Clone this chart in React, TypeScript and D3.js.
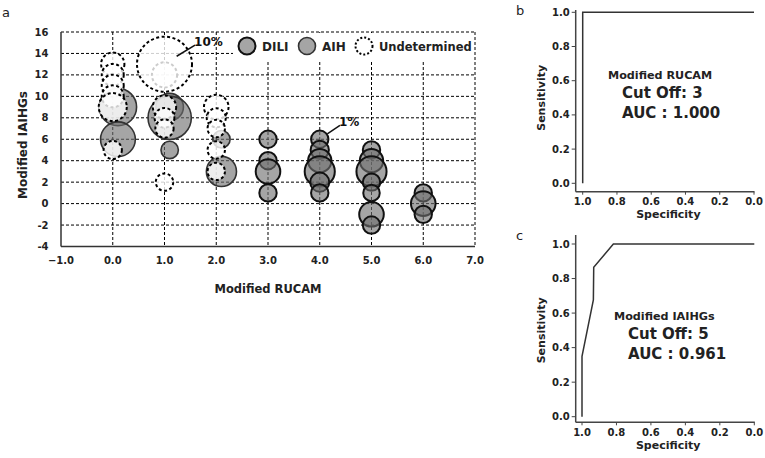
import React from "react";
import * as d3 from "d3";

// ---- data ----
const xTicks = [-1, 0, 1, 2, 3, 4, 5, 6, 7];
const yTicks = [-4, -2, 0, 2, 4, 6, 8, 10, 12, 14, 16];
const xGrid = [0, 1, 2, 3, 4, 5, 6, 7];
const yGrid = [-2, 0, 2, 4, 6, 8, 10, 12, 14, 16];

// [Modified RUCAM, Modified IAIHGs, percent of group]
const dili: number[][] = [
  [3, 6, 1], [3, 4, 1], [3, 3, 2], [3, 1, 1],
  [4, 6, 1], [4, 5, 1.1], [4, 4, 1.8], [4, 3, 3], [4, 2, 1.2], [4, 1, 1],
  [5, 5, 1], [5, 4, 1.8], [5, 3, 3], [5, 2, 1], [5, 1, 0.9], [5, -1, 2], [5, -2, 1],
  [6, 1, 1], [6, 0, 2], [6, -1, 1],
];
const aih: number[][] = [
  [0, 9, 4.6], [0, 6, 4], [1, 9, 2.5], [1, 8, 6.2], [1, 5, 1], [2, 6, 1], [2, 3, 3],
];
const undetermined: number[][] = [
  [1, 12, 2.1], [1, 13, 10],
  [0, 13, 1.8], [0, 12, 1.6], [0, 11, 1.6], [0, 10, 1.6], [0, 9, 2.6], [0, 5, 1.1],
  [1, 9, 1.8], [1, 8, 1.3], [1, 7, 1.1], [1, 2, 1],
  [2, 9, 2], [2, 8, 1.2], [2, 7, 1], [2, 5, 1], [2, 3, 1],
];
const legendItems = ["DILI", "AIH", "Undetermined"];
// annotation: [label, lineX1, lineY1, lineX2, lineY2] in data units
const annotations: [string, number, number, number, number][] = [
  ["10%", 1.235, 13.74, 1.59, 14.77],
  ["1%", 4.146, 6.51, 4.39, 7.29],
];

const rocTicks = [0, 0.2, 0.4, 0.6, 0.8, 1.0];
// [specificity, sensitivity]
const rocB: number[][] = [[1, 0], [1, 1], [0, 1]];
const rocC: number[][] = [[1, 0], [1, 0.35], [0.934, 0.676], [0.932, 0.865], [0.818, 1], [0, 1]];
const rocBText = ["Modified RUCAM", "Cut Off: 3", "AUC : 1.000"];
const rocCText = ["Modified IAIHGs", "Cut Off: 5", "AUC : 0.961"];

const FONT = "'DejaVu Sans', Verdana, sans-serif";
const AIH_SHIFT = 0.1;

function Roc(props: {
  pts: number[][]; texts: string[]; letter: string;
  xr: [number, number]; yr: [number, number]; axisX: number; axisY: number; axisTop: number;
  textX: number; textY: number;
}) {
  const { pts, texts, letter, xr, yr, axisX, axisY, axisTop, textX, textY } = props;
  const sx = d3.scaleLinear().domain([1, 0]).range(xr);
  const sy = d3.scaleLinear().domain([0, 1]).range(yr);
  const line = d3.line<number[]>().x((d) => sx(d[0])).y((d) => sy(d[1]));
  const fmt = d3.format(".1f");
  return (
    <g fontFamily={FONT}>
      <text x={516} y={axisTop + 5} fontSize={13} fill="#222">{letter}</text>
      <line x1={axisX} x2={axisX} y1={axisTop} y2={axisY} stroke="#444" strokeWidth={1.5} />
      <line x1={axisX} x2={xr[1] + 0.5} y1={axisY} y2={axisY} stroke="#444" strokeWidth={1.5} />
      {rocTicks.map((t) => (
        <g key={"y" + t}>
          <line x1={axisX - 4} x2={axisX} y1={sy(t)} y2={sy(t)} stroke="#444" strokeWidth={1} />
          <text x={axisX - 6} y={sy(t)} dy="0.35em" textAnchor="end" fontSize={10} fontWeight="bold" fill="#222">{fmt(t)}</text>
        </g>
      ))}
      {rocTicks.map((t) => (
        <g key={"x" + t}>
          <line x1={sx(t)} x2={sx(t)} y1={axisY} y2={axisY + 3} stroke="#444" strokeWidth={1} />
          <text x={sx(t)} y={axisY + 13.5} textAnchor="middle" fontSize={10} fontWeight="bold" fill="#222">{fmt(t)}</text>
        </g>
      ))}
      <text x={(xr[0] + xr[1]) / 2} y={axisY + 26.5} textAnchor="middle" fontSize={11} fontWeight="bold" fill="#222">Specificity</text>
      <text transform={`translate(${axisX - 31},${(yr[0] + yr[1]) / 2}) rotate(-90)`} textAnchor="middle" fontSize={11} fontWeight="bold" fill="#222">Sensitivity</text>
      <path d={line(pts) || ""} fill="none" stroke="#333" strokeWidth={1.5} />
      <text x={textX} y={textY} fontSize={11.2} fontWeight="bold" fill="#222">{texts[0]}</text>
      <text x={textX + 14} y={textY + 19} fontSize={15} fontWeight="bold" fill="#222">{texts[1]}</text>
      <text x={textX + 14} y={textY + 39} fontSize={15} fontWeight="bold" fill="#222">{texts[2]}</text>
    </g>
  );
}

export default function App() {
  const x = d3.scaleLinear().domain([-1, 7]).range([61, 475]);
  const y = d3.scaleLinear().domain([-4, 16]).range([246.5, 32]);
  const r = d3.scaleSqrt().domain([0, 10]).range([0, 27.5]);
  const fmt = d3.format(".1f");

  return (
    <svg width={765} height={458} style={{ position: "absolute", left: 0, top: 0, background: "#fff" }}>
      <rect width={765} height={458} fill="#fff" />
      <g fontFamily={FONT}>
        <text x={2} y={17} fontSize={13} fill="#222">a</text>
        {/* grid */}
        {yGrid.map((v) => (
          <line key={"gy" + v} x1={x(-1)} x2={x(7)} y1={y(v)} y2={y(v)} stroke="#000" strokeWidth={1} strokeDasharray="3,2" />
        ))}
        {xGrid.map((v) => (
          <line key={"gx" + v} x1={x(v)} x2={x(v)} y1={y(16)} y2={y(-4)} stroke="#000" strokeWidth={1} strokeDasharray="3,2" />
        ))}
        {/* axes */}
        <line x1={x(-1)} x2={x(-1)} y1={y(16)} y2={y(-4)} stroke="#333" strokeWidth={1.5} />
        <line x1={x(-1)} x2={x(7)} y1={y(-4)} y2={y(-4)} stroke="#333" strokeWidth={1.5} />
        {xTicks.map((t) => (
          <text key={"xt" + t} x={x(t)} y={y(-4) + 17} textAnchor="middle" fontSize={10} fontWeight="bold" fill="#222">{fmt(t)}</text>
        ))}
        {yTicks.map((t) => (
          <text key={"yt" + t} x={x(-1) - 12.5} y={y(t)} dy="0.35em" textAnchor="end" fontSize={10} fontWeight="bold" fill="#222">{t}</text>
        ))}
        <text x={(x(-1) + x(7)) / 2} y={293} textAnchor="middle" fontSize={11.5} fontWeight="bold" fill="#222">Modified RUCAM</text>
        <text transform={`translate(26.5,${145}) rotate(-90)`} textAnchor="middle" fontSize={12} fontWeight="bold" fill="#222">Modified IAIHGs</text>

        {/* bubbles */}
        {dili.map((d, i) => (
          <circle key={"d" + i} cx={x(d[0])} cy={y(d[1])} r={r(d[2])} fill="#6e6e6e" fillOpacity={0.62} stroke="#111" strokeWidth={2} />
        ))}
        {aih.map((d, i) => (
          <circle key={"a" + i} cx={x(d[0] + AIH_SHIFT)} cy={y(d[1])} r={r(d[2])} fill="#6e6e6e" fillOpacity={0.62} stroke="#333" strokeWidth={1.6} />
        ))}
        {undetermined.map((d, i) => (
          <circle key={"u" + i} cx={x(d[0])} cy={y(d[1])} r={r(d[2])} fill="#fff" fillOpacity={0.8} stroke="#000" strokeWidth={2} strokeDasharray="3,2.5" />
        ))}

        {/* annotations */}
        {annotations.map((a) => (
          <g key={a[0]}>
            <line x1={x(a[1])} y1={y(a[2])} x2={x(a[3])} y2={y(a[4])} stroke="#111" strokeWidth={1.5} />
            <text x={x(a[3]) - 1} y={y(a[4]) + 0.5} fontSize={12} fontWeight="bold" fill="#111">{a[0]}</text>
          </g>
        ))}

        {/* legend */}
        <rect x={233} y={33} width={241} height={27} fill="#fff" />
        <circle cx={247} cy={46} r={8.5} fill="#6e6e6e" fillOpacity={0.62} stroke="#111" strokeWidth={2} />
        <text x={262} y={50.5} fontSize={12} fontWeight="bold" fill="#222">{legendItems[0]}</text>
        <circle cx={307} cy={46} r={8.5} fill="#6e6e6e" fillOpacity={0.62} stroke="#333" strokeWidth={1.6} />
        <text x={322} y={50.5} fontSize={12} fontWeight="bold" fill="#222">{legendItems[1]}</text>
        <circle cx={364} cy={46} r={8.5} fill="#fff" stroke="#000" strokeWidth={2} strokeDasharray="2,2" />
        <text x={379} y={50.5} fontSize={11.5} fontWeight="bold" fill="#222">{legendItems[2]}</text>
      </g>

      <Roc pts={rocB} texts={rocBText} letter="b" xr={[582.7, 754]} yr={[183.3, 12.3]}
        axisX={575.7} axisY={191.7} axisTop={10} textX={608} textY={79} />
      <Roc pts={rocC} texts={rocCText} letter="c" xr={[582, 754.3]} yr={[416.7, 244]}
        axisX={575.7} axisY={422.3} axisTop={235} textX={614} textY={320} />
    </svg>
  );
}
